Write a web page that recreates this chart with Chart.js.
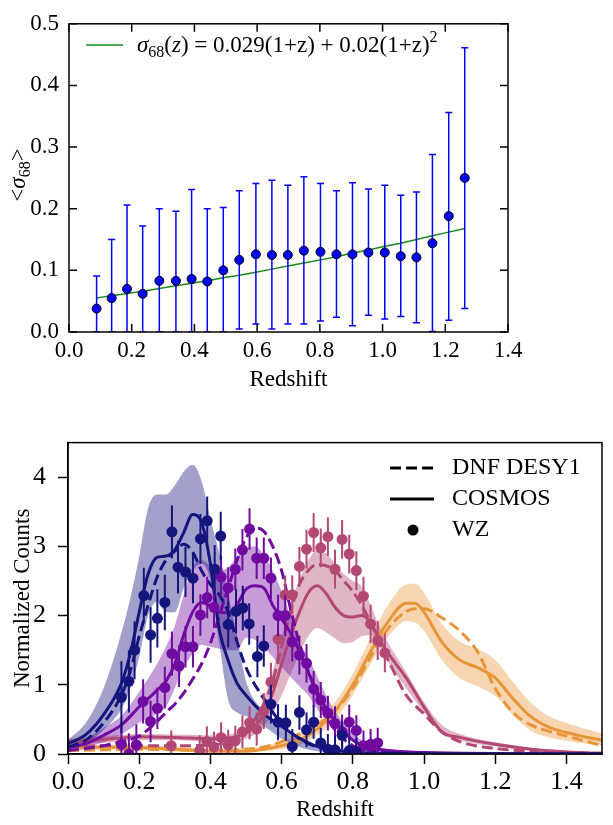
<!DOCTYPE html>
<html>
<head>
<meta charset="utf-8">
<script src="https://cdn.jsdelivr.net/npm/chart.js@4.4.1/dist/chart.umd.min.js"></script>
<style>
  html, body { margin: 0; padding: 0; background: #fff; }
  #wrap { position: relative; width: 613px; height: 825px; }
  .panel { position: absolute; left: 0; }
  #topPanel { top: 0; }
  #botPanel { top: 415px; }
</style>
</head>
<body>
<div id="wrap">
  <div class="panel" id="topPanel"><canvas id="sigmaChart" width="613" height="405"></canvas></div>
  <div class="panel" id="botPanel"><canvas id="nzChart" width="613" height="410"></canvas></div>
</div>
<script>
const SERIF = "'Liberation Serif', 'Times New Roman', serif";
Chart.defaults.font.family = SERIF;
Chart.defaults.color = '#000';

// top panel: <sigma_68> per redshift bin
const zTop = [0.088, 0.136, 0.185, 0.235, 0.288, 0.341, 0.391, 0.441, 0.492, 0.543, 0.596, 0.647,
              0.698, 0.749, 0.802, 0.853, 0.904, 0.955, 1.007, 1.058, 1.108, 1.159, 1.211, 1.262];
const sigma68 = [0.038, 0.055, 0.070, 0.062, 0.083, 0.083, 0.086, 0.082, 0.100, 0.117, 0.126, 0.125,
                 0.125, 0.132, 0.130, 0.126, 0.126, 0.129, 0.129, 0.123, 0.121, 0.144, 0.188, 0.250];
const sigmaHi = [0.091, 0.150, 0.206, 0.172, 0.200, 0.196, 0.231, 0.200, 0.202, 0.229, 0.241, 0.246,
                 0.238, 0.252, 0.241, 0.229, 0.242, 0.232, 0.238, 0.222, 0.227, 0.288, 0.356, 0.461];
const sigmaLo = [0, 0, 0, 0, 0, 0, 0, 0, 0, 0.005, 0.013, 0.005,
                 0.013, 0.013, 0.018, 0.024, 0.010, 0.027, 0.021, 0.025, 0.015, 0.001, 0.019, 0.038];
// fitted curve
const fitTop = [0.055, 0.059, 0.0625, 0.066, 0.0705, 0.075, 0.079, 0.083, 0.088, 0.092, 0.097, 0.102,
                0.107, 0.112, 0.117, 0.122, 0.128, 0.133, 0.139, 0.144, 0.150, 0.156, 0.162, 0.168];
const xTicksTop = [0, 0.2, 0.4, 0.6, 0.8, 1.0, 1.2, 1.4];
const yTicksTop = [0, 0.1, 0.2, 0.3, 0.4, 0.5];

// bottom panel: n(z) of the four tomographic bins
const zNavy = [0, 0.05, 0.1, 0.15, 0.175, 0.2, 0.225, 0.25, 0.275, 0.3, 0.325, 0.35, 0.375, 0.4, 0.425,
               0.45, 0.475, 0.5, 0.55, 0.6, 0.65, 0.7, 0.8, 0.9, 1.0, 1.5];
const navyCosmos = [0.15, 0.28, 0.57, 1.02, 1.45, 2.05, 2.6, 2.84, 2.86, 2.95, 3.2, 3.46, 3.35, 2.75, 1.8,
                    1.35, 1.02, 0.85, 0.58, 0.4, 0.23, 0.11, 0.03, 0.01, 0, 0];
const navyDnf = [0.1, 0.2, 0.45, 0.85, 1.2, 1.7, 2.15, 2.55, 2.8, 2.93, 3.03, 2.92, 2.65, 2.45, 2.3,
                 2.05, 1.62, 1.25, 0.8, 0.44, 0.22, 0.1, 0.03, 0.01, 0, 0];
const navyHi = [0.2, 0.45, 0.95, 1.75, 2.25, 2.85, 3.55, 3.75, 3.75, 3.88, 4.08, 4.18, 3.95, 3.4, 2.9,
                2.3, 1.7, 1.05, 0.62, 0.42, 0.24, 0.12, 0.04, 0.02, 0.01, 0];
const navyLo = [0.08, 0.15, 0.35, 0.65, 0.95, 1.4, 2.0, 2.2, 2.05, 2.05, 2.4, 2.65, 2.75, 2.5, 1.6,
                0.78, 0.6, 0.55, 0.4, 0.22, 0.1, 0.04, 0.01, 0, 0, 0];

const zPurple = [0, 0.05, 0.1, 0.15, 0.2, 0.25, 0.275, 0.3, 0.325, 0.35, 0.375, 0.4, 0.425, 0.45, 0.475,
                 0.5, 0.525, 0.55, 0.575, 0.6, 0.625, 0.65, 0.675, 0.7, 0.725, 0.75, 0.8, 0.85, 0.9, 1.0, 1.5];
const purpleCosmos = [0.09, 0.15, 0.27, 0.42, 0.68, 0.92, 1.05, 1.3, 1.72, 2.05, 2.19, 2.14, 2.05, 2.04, 2.16,
                      2.38, 2.43, 2.4, 2.15, 1.95, 1.75, 1.48, 1.18, 0.9, 0.66, 0.48, 0.2, 0.09, 0.05, 0.02, 0];
const purpleDnf = [0.05, 0.08, 0.12, 0.18, 0.26, 0.47, 0.6, 0.72, 0.88, 1.08, 1.3, 1.6, 2.0, 2.4, 2.8,
                   3.12, 3.27, 3.22, 3.0, 2.65, 2.1, 1.6, 1.2, 0.85, 0.56, 0.35, 0.12, 0.06, 0.03, 0.01, 0];
const purpleHi = [0.12, 0.22, 0.38, 0.55, 0.9, 1.3, 1.55, 1.85, 2.3, 2.7, 2.8, 2.72, 2.65, 2.7, 2.85,
                  2.98, 3.0, 2.88, 2.65, 2.35, 2.0, 1.62, 1.4, 1.12, 0.85, 0.62, 0.3, 0.14, 0.07, 0.03, 0];
const purpleLo = [0.06, 0.1, 0.17, 0.28, 0.45, 0.58, 0.68, 0.95, 1.25, 1.45, 1.58, 1.55, 1.52, 1.5, 1.5,
                  1.68, 1.65, 1.55, 1.4, 1.26, 1.12, 0.98, 0.85, 0.65, 0.5, 0.38, 0.18, 0.07, 0.03, 0.01, 0];

const zPink = [0, 0.1, 0.2, 0.3, 0.4, 0.45, 0.5, 0.525, 0.55, 0.575, 0.6, 0.625, 0.65, 0.675, 0.7,
               0.725, 0.75, 0.775, 0.8, 0.825, 0.85, 0.875, 0.9, 0.95, 1.0, 1.05, 1.1, 1.2, 1.3, 1.4, 1.5];
const pinkCosmos = [0.18, 0.21, 0.25, 0.24, 0.22, 0.23, 0.3, 0.4, 0.58, 0.88, 1.3, 1.7, 2.05, 2.33, 2.43,
                    2.32, 2.12, 2.0, 1.98, 2.0, 1.9, 1.65, 1.45, 1.1, 0.68, 0.32, 0.24, 0.14, 0.07, 0.03, 0.01];
const pinkDnf = [0.1, 0.12, 0.12, 0.12, 0.13, 0.18, 0.35, 0.5, 0.72, 1.05, 1.55, 2.05, 2.45, 2.65, 2.74,
                 2.72, 2.65, 2.5, 2.35, 2.15, 1.9, 1.6, 1.35, 0.85, 0.58, 0.32, 0.18, 0.08, 0.04, 0.02, 0.01];
const pinkHi = [0.22, 0.26, 0.29, 0.28, 0.27, 0.28, 0.4, 0.55, 0.8, 1.2, 1.7, 2.15, 2.52, 2.8, 2.94,
                2.9, 2.75, 2.6, 2.5, 2.42, 2.15, 1.85, 1.6, 1.18, 0.75, 0.42, 0.29, 0.17, 0.09, 0.05, 0.02];
const pinkLo = [0.14, 0.16, 0.2, 0.2, 0.18, 0.18, 0.22, 0.28, 0.4, 0.58, 0.85, 1.15, 1.45, 1.7, 1.82,
                1.76, 1.67, 1.6, 1.62, 1.7, 1.72, 1.55, 1.32, 0.95, 0.6, 0.3, 0.2, 0.11, 0.05, 0.02, 0.01];

const zOrange = [0, 0.1, 0.2, 0.3, 0.4, 0.5, 0.55, 0.6, 0.65, 0.7, 0.75, 0.8, 0.85, 0.9, 0.95, 0.975,
                 1.0, 1.05, 1.1, 1.15, 1.2, 1.25, 1.3, 1.35, 1.4, 1.45, 1.5];
const orangeCosmos = [0.08, 0.1, 0.09, 0.07, 0.04, 0.04, 0.07, 0.12, 0.2, 0.36, 0.62, 1.0, 1.48, 1.92, 2.18, 2.18,
                      2.05, 1.62, 1.36, 1.25, 1.1, 0.8, 0.54, 0.39, 0.31, 0.25, 0.2];
const orangeDnf = [0.05, 0.06, 0.07, 0.06, 0.05, 0.07, 0.1, 0.18, 0.29, 0.42, 0.62, 0.95, 1.4, 1.82, 2.06, 2.1,
                   2.1, 1.97, 1.78, 1.48, 0.95, 0.6, 0.42, 0.33, 0.26, 0.19, 0.12];
const orangeHi = [0.12, 0.13, 0.13, 0.11, 0.08, 0.08, 0.12, 0.18, 0.28, 0.46, 0.75, 1.16, 1.68, 2.16, 2.45, 2.46,
                  2.33, 1.88, 1.63, 1.52, 1.36, 1.04, 0.74, 0.55, 0.45, 0.37, 0.3];
const orangeLo = [0.04, 0.06, 0.06, 0.04, 0.02, 0.02, 0.04, 0.07, 0.13, 0.27, 0.5, 0.85, 1.3, 1.7, 1.92, 1.9,
                  1.78, 1.36, 1.1, 0.98, 0.84, 0.56, 0.34, 0.24, 0.19, 0.15, 0.12];

// WZ clustering points
const wzNavyZ = [0.150, 0.171, 0.187, 0.213, 0.232, 0.251, 0.272, 0.292, 0.309, 0.330, 0.351, 0.372,
                 0.391, 0.412, 0.429, 0.450, 0.472, 0.491, 0.509, 0.532, 0.550, 0.570, 0.590, 0.612,
                 0.630, 0.650, 0.670, 0.690, 0.710, 0.730, 0.750, 0.770, 0.790, 0.810];
const wzNavy = [0.82, 1.05, 1.50, 2.29, 1.72, 1.96, 2.19, 3.21, 2.70, 2.63, 2.54, 3.11,
                3.37, 2.67, 3.15, 1.87, 2.06, 2.11, 1.88, 1.41, 1.56, 0.72, 0.46, 0.45,
                0.11, 0.60, 0.35, 0.46, 0.16, 0.07, 0.06, 0.27, 0.05, 0.03];
const wzNavyErr = [0.52, 0.45, 0.42, 0.40, 0.40, 0.42, 0.40, 0.38, 0.38, 0.36, 0.36, 0.36,
                   0.35, 0.35, 0.35, 0.33, 0.32, 0.32, 0.30, 0.30, 0.30, 0.28, 0.26, 0.26,
                   0.25, 0.25, 0.25, 0.24, 0.22, 0.22, 0.20, 0.20, 0.20, 0.20];
const wzPurpleZ = [0.150, 0.171, 0.192, 0.211, 0.232, 0.251, 0.272, 0.292, 0.312, 0.330, 0.351, 0.372,
                   0.391, 0.410, 0.430, 0.450, 0.470, 0.490, 0.510, 0.530, 0.550, 0.570, 0.590, 0.610,
                   0.630, 0.650, 0.670, 0.690, 0.710, 0.730, 0.750, 0.770, 0.790, 0.810, 0.830, 0.850, 0.870];
const wzPurple = [0.14, 0.0, 0.13, 0.76, 0.47, 0.66, 0.96, 1.45, 1.27, 1.55, 1.55, 2.01,
                  2.26, 2.12, 2.56, 2.40, 2.67, 2.95, 3.25, 2.83, 2.83, 2.54, 2.00, 2.00,
                  1.62, 1.43, 1.31, 0.94, 0.78, 0.59, 0.44, 0.32, 0.46, 0.34, 0.12, 0.14, 0.16];
const wzPurpleErr = [0.30, 0.30, 0.30, 0.32, 0.30, 0.30, 0.30, 0.32, 0.30, 0.30, 0.30, 0.30,
                     0.30, 0.30, 0.30, 0.30, 0.30, 0.30, 0.30, 0.30, 0.30, 0.30, 0.30, 0.30,
                     0.28, 0.28, 0.28, 0.26, 0.26, 0.25, 0.25, 0.25, 0.25, 0.22, 0.22, 0.22, 0.22];
const wzPinkZ = [0.290, 0.370, 0.390, 0.410, 0.430, 0.450, 0.470, 0.490, 0.510, 0.530, 0.550, 0.570,
                 0.590, 0.610, 0.630, 0.650, 0.670, 0.690, 0.710, 0.730, 0.750, 0.770, 0.790, 0.810,
                 0.830, 0.850, 0.870, 0.890];
const wzPink = [0.12, 0.05, 0.18, 0.10, 0.24, 0.13, 0.19, 0.32, 0.45, 0.36, 0.62, 1.04,
                1.66, 2.30, 2.30, 2.71, 2.96, 3.20, 2.98, 3.14, 2.67, 3.10, 2.89, 2.65,
                2.28, 1.88, 1.64, 1.46];
const wzPinkErr = [0.22, 0.22, 0.22, 0.22, 0.22, 0.22, 0.22, 0.24, 0.24, 0.24, 0.26, 0.28,
                   0.28, 0.28, 0.28, 0.28, 0.28, 0.28, 0.28, 0.28, 0.28, 0.28, 0.28, 0.28,
                   0.28, 0.28, 0.28, 0.28];

const xTicksBot = [0, 0.2, 0.4, 0.6, 0.8, 1.0, 1.2, 1.4];
const yTicksBot = [0, 1, 2, 3, 4];
const legendLabels = ['DNF DESY1', 'COSMOS', 'WZ'];

function pts(zs, vs) {
    return zs.map((z, i) => ({ x: z, y: vs[i] }));
}

function fade(hex, a) {
    const n = parseInt(hex.slice(1), 16);
    return `rgba(${n >> 16}, ${(n >> 8) & 255}, ${n & 255}, ${a})`;
}

function drawRuns(ctx, x, y, runs) {
    runs.forEach(r => {
        ctx.font = r.font;
        ctx.fillText(r.t, x, y + (r.dy || 0));
        x += ctx.measureText(r.t).width;
    });
    return x;
}

function runsWidth(ctx, runs) {
    let w = 0;
    runs.forEach(r => { ctx.font = r.font; w += ctx.measureText(r.t).width; });
    return w;
}

const fNorm = `23px ${SERIF}`;
const fItal = `italic 23px ${SERIF}`;
const fSmall = `16px ${SERIF}`;

// vertical error bars, drawn just before the points they belong to
const errorBars = {
    id: 'errorBars',
    beforeDatasetDraw(chart, args) {
        const ds = chart.data.datasets[args.index];
        if (!ds.errs) return;
        const { ctx, chartArea: a } = chart;
        const xs = chart.scales.x, ys = chart.scales.y;
        ctx.save();
        ctx.beginPath();
        ctx.rect(a.left, a.top, a.right - a.left, a.bottom - a.top);
        ctx.clip();
        ctx.strokeStyle = ds.errColor;
        ctx.lineWidth = ds.errWidth;
        ds.data.forEach((p, i) => {
            const px = xs.getPixelForValue(p.x);
            const lo = ys.getPixelForValue(ds.errs.lo[i]);
            const hi = ys.getPixelForValue(ds.errs.hi[i]);
            ctx.beginPath();
            ctx.moveTo(px, lo);
            ctx.lineTo(px, hi);
            if (ds.capSize) {
                ctx.moveTo(px - ds.capSize, lo); ctx.lineTo(px + ds.capSize, lo);
                ctx.moveTo(px - ds.capSize, hi); ctx.lineTo(px + ds.capSize, hi);
            }
            ctx.stroke();
        });
        ctx.restore();
    }
};

// frame, inward ticks, legend and y label of the top panel
const topDecor = {
    id: 'topDecor',
    afterDraw(chart) {
        const { ctx, chartArea: a } = chart;
        const xs = chart.scales.x, ys = chart.scales.y;
        ctx.save();
        ctx.strokeStyle = '#000';
        ctx.lineWidth = 1.5;
        ctx.strokeRect(a.left, a.top, a.right - a.left, a.bottom - a.top);
        ctx.beginPath();
        xTicksTop.forEach(v => {
            const px = xs.getPixelForValue(v);
            ctx.moveTo(px, a.bottom); ctx.lineTo(px, a.bottom - 8);
            ctx.moveTo(px, a.top); ctx.lineTo(px, a.top + 8);
        });
        yTicksTop.forEach(v => {
            const py = ys.getPixelForValue(v);
            ctx.moveTo(a.left, py); ctx.lineTo(a.left + 8, py);
            ctx.moveTo(a.right, py); ctx.lineTo(a.right - 8, py);
        });
        ctx.stroke();

        // legend
        ctx.strokeStyle = '#1a8a1a';
        ctx.beginPath();
        ctx.moveTo(86, 45); ctx.lineTo(123, 45);
        ctx.stroke();
        ctx.fillStyle = '#000';
        ctx.textBaseline = 'alphabetic';
        drawRuns(ctx, 137, 52, [
            { t: 'σ', font: fItal },
            { t: '68', font: fSmall, dy: 5 },
            { t: '(', font: fNorm },
            { t: 'z', font: fItal },
            { t: ') = 0.029(1+z) + 0.02(1+z)', font: fNorm },
            { t: '2', font: fSmall, dy: -10 }
        ]);

        // y axis label
        const yl = [
            { t: '<', font: fNorm },
            { t: 'σ', font: fItal },
            { t: '68', font: fSmall, dy: 5 },
            { t: '>', font: fNorm }
        ];
        ctx.translate(17, 175);
        ctx.rotate(-Math.PI / 2);
        drawRuns(ctx, -runsWidth(ctx, yl) / 2, 8, yl);
        ctx.restore();
    }
};

new Chart(document.getElementById('sigmaChart'), {
    type: 'line',
    data: {
        datasets: [
            {
                data: pts(zTop, sigma68),
                showLine: false,
                pointRadius: 4.5,
                pointBackgroundColor: '#0000ff',
                pointBorderColor: '#000',
                pointBorderWidth: 1,
                errs: { lo: sigmaLo, hi: sigmaHi },
                errColor: '#0000ff',
                errWidth: 1.5,
                capSize: 3.5,
                order: 1
            },
            {
                data: pts(zTop, fitTop),
                borderColor: '#1a8a1a',
                borderWidth: 1.5,
                pointRadius: 0,
                fill: false,
                order: 2
            }
        ]
    },
    options: {
        responsive: false,
        animation: false,
        layout: { padding: { top: 14, right: 105, left: 0, bottom: 0 } },
        plugins: { legend: { display: false }, tooltip: { enabled: false } },
        scales: {
            x: {
                type: 'linear', min: 0, max: 1.4,
                grid: { display: false, drawTicks: false },
                border: { display: false },
                afterBuildTicks: s => { s.ticks = xTicksTop.map(v => ({ value: v })); },
                afterFit: s => { s.height = 73; },
                ticks: { font: { size: 23 }, padding: 5, maxRotation: 0, autoSkip: false,
                         callback: v => v.toFixed(1) },
                title: { display: true, text: 'Redshift', font: { size: 23 },
                         padding: { top: 0, bottom: 11 } }
            },
            y: {
                min: 0, max: 0.5,
                grid: { display: false, drawTicks: false },
                border: { display: false },
                afterBuildTicks: s => { s.ticks = yTicksTop.map(v => ({ value: v })); },
                afterFit: s => { s.width = 69; },
                ticks: { font: { size: 23 }, padding: 10, autoSkip: false,
                         callback: v => v.toFixed(1) }
            }
        }
    },
    plugins: [errorBars, topDecor]
});

// bottom panel
const bins = [
    { color: '#15157d', z: zNavy, cosmos: navyCosmos, dnf: navyDnf, hi: navyHi, lo: navyLo,
      wzZ: wzNavyZ, wz: wzNavy, wzErr: wzNavyErr },
    { color: '#700aa0', z: zPurple, cosmos: purpleCosmos, dnf: purpleDnf, hi: purpleHi, lo: purpleLo,
      wzZ: wzPurpleZ, wz: wzPurple, wzErr: wzPurpleErr },
    { color: '#b24873', z: zPink, cosmos: pinkCosmos, dnf: pinkDnf, hi: pinkHi, lo: pinkLo,
      wzZ: wzPinkZ, wz: wzPink, wzErr: wzPinkErr },
    { color: '#e8953a', z: zOrange, cosmos: orangeCosmos, dnf: orangeDnf, hi: orangeHi, lo: orangeLo,
      wzZ: [], wz: [], wzErr: [] }
];

const nzSets = [];
bins.forEach(b => {
    nzSets.push({ data: pts(b.z, b.hi), borderWidth: 0, pointRadius: 0, borderColor: 'rgba(0,0,0,0)',
                  backgroundColor: fade(b.color, 0.4), fill: '+1', cubicInterpolationMode: 'monotone', order: 3 });
    nzSets.push({ data: pts(b.z, b.lo), borderWidth: 0, pointRadius: 0, borderColor: 'rgba(0,0,0,0)',
                  fill: false, cubicInterpolationMode: 'monotone', order: 3 });
    nzSets.push({ data: pts(b.z, b.cosmos), borderColor: b.color, borderWidth: 3, pointRadius: 0,
                  fill: false, cubicInterpolationMode: 'monotone', order: 2 });
    nzSets.push({ data: pts(b.z, b.dnf), borderColor: b.color, borderWidth: 3, borderDash: [11, 5],
                  pointRadius: 0, fill: false, cubicInterpolationMode: 'monotone', order: 2 });
    if (b.wzZ.length) {
        nzSets.push({
            data: pts(b.wzZ, b.wz),
            showLine: false,
            pointRadius: 5.5,
            pointBackgroundColor: b.color,
            pointBorderWidth: 0,
            errs: { lo: b.wz.map((v, i) => v - b.wzErr[i]), hi: b.wz.map((v, i) => v + b.wzErr[i]) },
            errColor: b.color,
            errWidth: 2,
            order: 1
        });
    }
});

const botDecor = {
    id: 'botDecor',
    afterDraw(chart) {
        const { ctx, chartArea: a } = chart;
        ctx.save();
        ctx.strokeStyle = '#000';
        ctx.lineWidth = 1.5;
        ctx.strokeRect(a.left, a.top, a.right - a.left, a.bottom - a.top);

        // legend
        const rowY = [53, 84, 115];
        ctx.lineWidth = 3;
        ctx.setLineDash([11, 5]);
        ctx.beginPath(); ctx.moveTo(390, rowY[0]); ctx.lineTo(434, rowY[0]); ctx.stroke();
        ctx.setLineDash([]);
        ctx.beginPath(); ctx.moveTo(390, rowY[1]); ctx.lineTo(434, rowY[1]); ctx.stroke();
        ctx.fillStyle = '#000';
        ctx.beginPath(); ctx.arc(413, rowY[2], 5.5, 0, Math.PI * 2); ctx.fill();
        ctx.font = `24px ${SERIF}`;
        ctx.textBaseline = 'middle';
        legendLabels.forEach((t, i) => ctx.fillText(t, 452, rowY[i]));
        ctx.restore();
    }
};

new Chart(document.getElementById('nzChart'), {
    type: 'line',
    data: { datasets: nzSets },
    options: {
        responsive: false,
        animation: false,
        layout: { padding: { top: 26, right: 11, left: 0, bottom: 0 } },
        plugins: { legend: { display: false }, tooltip: { enabled: false } },
        scales: {
            x: {
                type: 'linear', min: 0, max: 1.5,
                grid: { drawOnChartArea: false, drawTicks: true, tickLength: 10, tickColor: '#000', tickWidth: 1.5 },
                border: { display: true, color: '#000', width: 1.5 },
                afterBuildTicks: s => { s.ticks = xTicksBot.map(v => ({ value: v })); },
                afterFit: s => { s.height = 71; },
                ticks: { font: { size: 26 }, padding: 3, maxRotation: 0, autoSkip: false,
                         callback: v => v.toFixed(1) },
                title: { display: true, text: 'Redshift', font: { size: 23 },
                         padding: { top: 0, bottom: 1 } }
            },
            y: {
                min: 0, max: 4.5,
                grid: { drawOnChartArea: false, drawTicks: true, tickLength: 10, tickColor: '#000', tickWidth: 1.5 },
                border: { display: true, color: '#000', width: 1.5 },
                afterBuildTicks: s => { s.ticks = yTicksBot.map(v => ({ value: v })); },
                afterFit: s => { s.width = 68; },
                ticks: { font: { size: 26 }, padding: 12, autoSkip: false, callback: v => String(v) },
                title: { display: true, text: 'Normalized Counts', font: { size: 23 },
                         padding: { top: 9, bottom: 0 } }
            }
        }
    },
    plugins: [errorBars, botDecor]
});
</script>
</body>
</html>
